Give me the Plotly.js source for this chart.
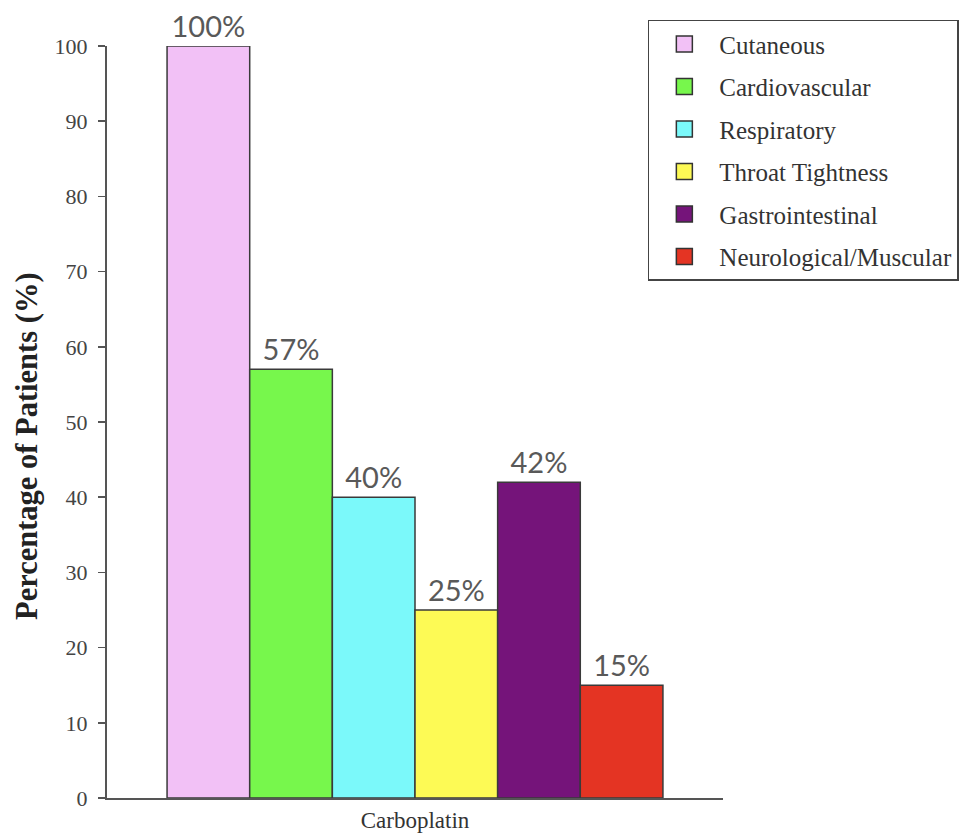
<!DOCTYPE html>
<html>
<head>
<meta charset="utf-8">
<script src="https://cdn.plot.ly/plotly-3.0.1.min.js"></script>
<style>html,body{margin:0;padding:0;background:#fff;}#chart{width:980px;height:834px;}</style>
</head>
<body>
<div id="chart"></div>
<script>
const categories = ["Carboplatin"];
const seriesNames = ["Cutaneous", "Cardiovascular", "Respiratory", "Throat Tightness", "Gastrointestinal", "Neurological/Muscular"];
const seriesValues = [100, 57, 40, 25, 42, 15];
const seriesLabels = ["100%", "57%", "40%", "25%", "42%", "15%"];
const seriesColors = ["#F2C1F6", "#77F74C", "#7BF9FA", "#FDFA55", "#75147A", "#E43423"];
const yTicks = [0, 10, 20, 30, 40, 50, 60, 70, 80, 90, 100];

const barTraces = seriesNames.map((name, i) => ({
  type: "bar",
  name: name,
  x: categories,
  y: [seriesValues[i]],
  text: [seriesLabels[i]],
  textposition: "outside",
  constraintext: "none",
  cliponaxis: false,
  textfont: {family: "Lato, 'Open Sans', sans-serif", size: 29, color: "#595959"},
  marker: {color: seriesColors[i], line: {color: "#3a3a3a", width: 1.5}},
  legendgroup: "g" + i,
  showlegend: false,
  hoverinfo: "skip"
}));

// legend-only entries (larger square swatches, like the original legend)
const legendTraces = seriesNames.map((name, i) => ({
  type: "scatter",
  mode: "markers",
  name: name,
  x: categories,
  y: [null],
  marker: {symbol: "square", size: 16, color: seriesColors[i], line: {color: "#333", width: 1.5}},
  legendgroup: "g" + i,
  showlegend: true,
  hoverinfo: "skip"
}));

const layout = {
  width: 980, height: 834,
  margin: {l: 107, r: 257, t: 46, b: 36, pad: 0},
  paper_bgcolor: "#ffffff", plot_bgcolor: "#ffffff",
  barmode: "group",
  bargap: 0.195,
  bargroupgap: 0,
  showlegend: true,
  font: {family: "'Liberation Serif', 'Times New Roman', serif", color: "#333"},
  legend: {
    x: 0.878, y: 1.035, xanchor: "left", yanchor: "top",
    bordercolor: "#444", borderwidth: 1.5, bgcolor: "#fff",
    font: {family: "'Liberation Serif', serif", size: 25, color: "#333"},
    tracegroupgap: 7, traceorder: "grouped",
    itemwidth: 60
  },
  xaxis: {
    type: "category",
    showline: true, linecolor: "#555", linewidth: 2,
    ticks: "", showgrid: false, zeroline: false,
    tickfont: {family: "'Liberation Serif', serif", size: 23, color: "#333"},
    fixedrange: true
  },
  yaxis: {
    range: [0, 100],
    tickvals: yTicks,
    showline: true, linecolor: "#555", linewidth: 2,
    ticks: "outside", ticklen: 7, tickcolor: "#555", tickwidth: 1.5,
    ticklabelstandoff: 6,
    showgrid: false, zeroline: false,
    tickfont: {family: "'Liberation Serif', serif", size: 22, color: "#444"},
    fixedrange: true
  },
  annotations: [{
    text: "<b>Percentage of Patients (%)</b>",
    textangle: -90,
    xref: "paper", yref: "paper",
    x: -0.13, y: 0.468, xanchor: "center", yanchor: "middle",
    showarrow: false,
    font: {family: "'Liberation Serif', serif", size: 30.5, color: "#222"}
  }]
};

Plotly.newPlot("chart", barTraces.concat(legendTraces), layout, {displayModeBar: false, staticPlot: true});
</script>
</body>
</html>
